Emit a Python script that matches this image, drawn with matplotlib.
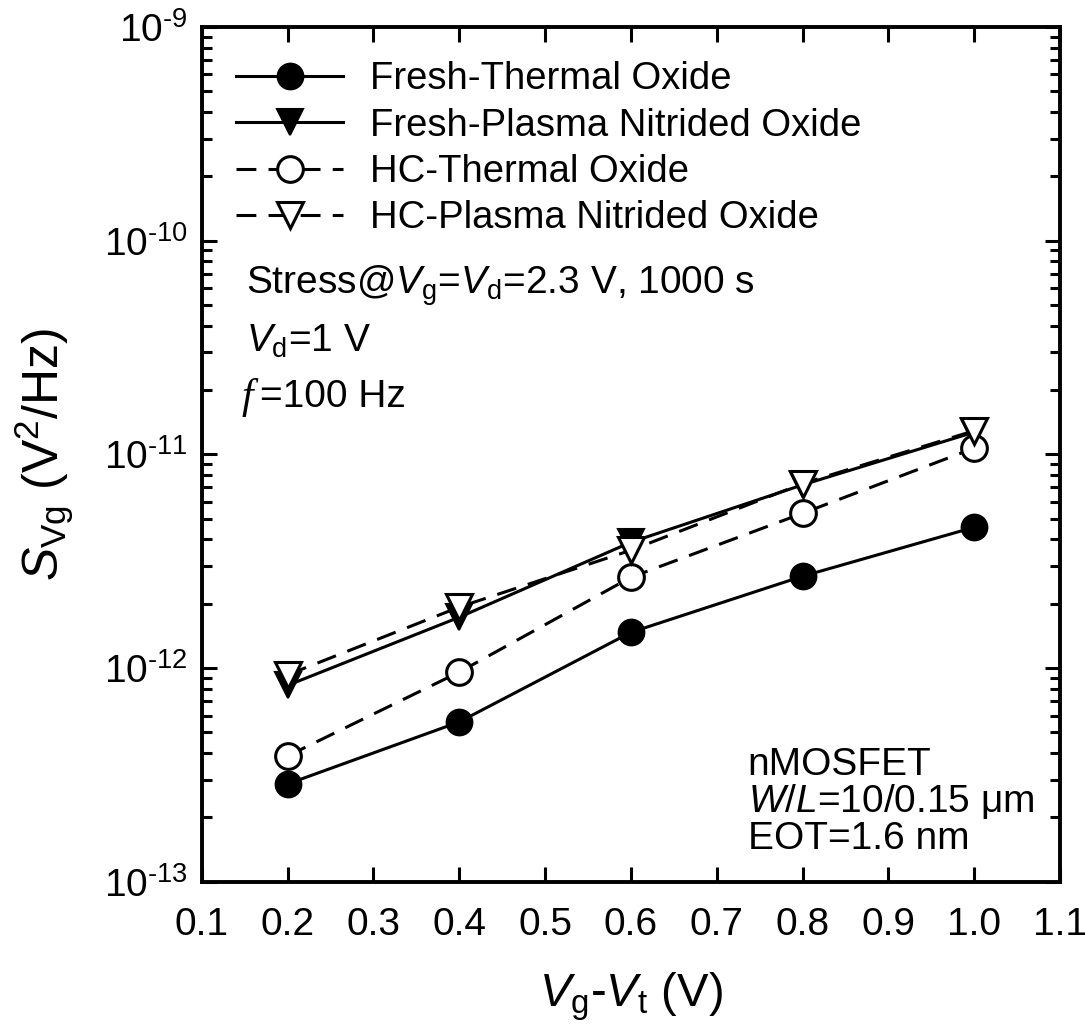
import matplotlib
matplotlib.use('Agg')
import matplotlib.pyplot as plt
from matplotlib.ticker import FixedLocator, LogLocator, NullFormatter

plt.rcParams['font.family'] = ['Liberation Sans', 'DejaVu Sans']
plt.rcParams['mathtext.fontset'] = 'custom'
plt.rcParams['mathtext.rm'] = 'Liberation Sans'
plt.rcParams['mathtext.it'] = 'Liberation Sans:italic'
plt.rcParams['mathtext.bf'] = 'Liberation Sans:bold'

# data
vg_vt = [0.2, 0.4, 0.6, 0.8, 1.0]
fresh_thermal = [2.87e-13, 5.6e-13, 1.47e-12, 2.69e-12, 4.56e-12]
fresh_plasma = [8.3e-13, 1.73e-12, 3.88e-12, 7.2e-12, 1.27e-11]
hc_thermal = [3.88e-13, 9.58e-13, 2.66e-12, 5.3e-12, 1.07e-11]
hc_plasma = [9.3e-13, 1.93e-12, 3.56e-12, 7.3e-12, 1.29e-11]

labels = ['Fresh-Thermal Oxide', 'Fresh-Plasma Nitrided Oxide',
          'HC-Thermal Oxide', 'HC-Plasma Nitrided Oxide']
x_ticks = [0.1, 0.2, 0.3, 0.4, 0.5, 0.6, 0.7, 0.8, 0.9, 1.0, 1.1]
y_ticks = [1e-13, 1e-12, 1e-11, 1e-10, 1e-9]
y_exps = [-13, -12, -11, -10, -9]

fig = plt.figure(figsize=(10.85, 10.35), dpi=100)
ax = fig.add_axes([0.186, 0.148, 0.791, 0.826])

lw = 2.2
ms = 18.5
dash = (6.5, 4)
ax.plot(vg_vt, fresh_thermal, '-', color='black', lw=lw, marker='o', ms=ms,
        mfc='black', mec='black', mew=1.5, label=labels[0], zorder=3)
ax.plot(vg_vt, fresh_plasma, '-', color='black', lw=lw, marker='v', ms=ms,
        mfc='black', mec='black', mew=1.5, label=labels[1], zorder=3)
ax.plot(vg_vt, hc_thermal, '--', dashes=dash, color='black', lw=lw, marker='o', ms=ms,
        mfc='white', mec='black', mew=2.2, label=labels[2], zorder=4)
ax.plot(vg_vt, hc_plasma, '--', dashes=dash, color='black', lw=lw, marker='v', ms=ms,
        mfc='white', mec='black', mew=2.2, label=labels[3], zorder=4)

ax.set_yscale('log')
ax.set_xlim(0.1, 1.1)
ax.set_ylim(1e-13, 1e-9)
ax.xaxis.set_major_locator(FixedLocator(x_ticks))
ax.set_xticklabels(['%.1f' % v for v in x_ticks])
ax.yaxis.set_major_locator(FixedLocator(y_ticks))
ax.set_yticklabels([r'$\mathregular{10^{\text{-}%d}}$' % abs(e) for e in y_exps])
ax.yaxis.set_minor_locator(LogLocator(base=10, subs=range(2, 10), numticks=20))
ax.yaxis.set_minor_formatter(NullFormatter())

ax.tick_params(which='both', direction='in', top=True, right=True, width=2.2,
               labelsize=28)
ax.tick_params(axis='x', pad=18)
ax.tick_params(axis='y', pad=10)
ax.tick_params(which='major', length=11)
ax.tick_params(which='minor', length=7)
for s in ax.spines.values():
    s.set_linewidth(2.8)

ax.set_xlabel(r'$\mathit{V}_{\mathregular{g}}\mathregular{\text{-}}\mathit{V}_{\mathregular{t}}\mathregular{\ (V)}$',
              fontsize=34, labelpad=20)
ax.set_ylabel(r'$\mathit{S}_{\mathregular{Vg}}\mathregular{\ (V^{2}/Hz)}$', fontsize=36, labelpad=20)

leg = ax.legend(loc='upper left', bbox_to_anchor=(0.0, 1.0), frameon=False,
                fontsize=27.5, handlelength=2.8, handletextpad=0.7,
                labelspacing=0.27, borderaxespad=0.5)

fs = 28
ax.text(0.052, 0.697, r'Stress@$\mathit{V}_{\mathregular{g}}$=$\mathit{V}_{\mathregular{d}}$=2.3 V, 1000 s',
        transform=ax.transAxes, fontsize=fs, va='center')
ax.text(0.052, 0.632, r'$\mathit{V}_{\mathregular{d}}$=1 V',
        transform=ax.transAxes, fontsize=fs, va='center')
ax.text(0.046, 0.567, 'f', transform=ax.transAxes, fontsize=30, va='center',
        family='Liberation Serif', style='italic')
ax.text(0.068, 0.567, '=100 Hz', transform=ax.transAxes, fontsize=fs, va='center')

ax.text(0.636, 0.137, 'nMOSFET', transform=ax.transAxes, fontsize=fs, va='center')
ax.text(0.636, 0.094, r'$\mathit{W}$/$\mathit{L}$=10/0.15 $\mathregular{\mu}$m',
        transform=ax.transAxes, fontsize=fs, va='center')
ax.text(0.636, 0.050, 'EOT=1.6 nm', transform=ax.transAxes, fontsize=fs, va='center')

fig.savefig('out.png', dpi=100)
